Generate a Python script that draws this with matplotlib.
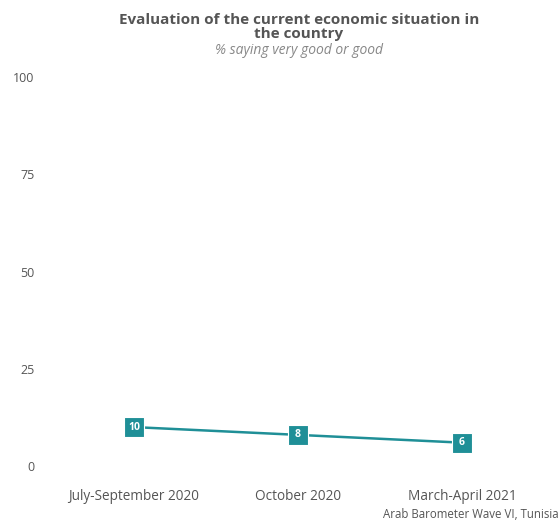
import matplotlib
matplotlib.use("Agg")
import matplotlib.pyplot as plt

categories = ["July-September 2020", "October 2020", "March-April 2021"]
values = [10, 8, 6]
yticks = [0, 25, 50, 75, 100]

title = "Evaluation of the current economic situation in\nthe country"
subtitle = "% saying very good or good"
caption = "Arab Barometer Wave VI, Tunisia"
color = "#1f8f97"

plt.rcParams['font.family'] = ['Open Sans', 'DejaVu Sans']

W, H = 560, 520
fig = plt.figure(figsize=(W/100, H/100), dpi=100)
ax_l, ax_r, ax_t, ax_b = 40, 556, 60, 485
ax = fig.add_axes([ax_l/W, 1-ax_b/H, (ax_r-ax_l)/W, (ax_b-ax_t)/H])

x = list(range(len(categories)))
ax.plot(x, values, color=color, lw=1.8, zorder=2)
ax.scatter(x, values, marker='s', s=200, color=color, edgecolors='white', linewidths=0.8, zorder=3)
for xi, v in zip(x, values):
    ax.text(xi, v, str(v), ha='center', va='center', color='white', fontsize=7.5, fontweight='bold', zorder=4)

ax.set_xlim(-(134-ax_l)/164, 2+(ax_r-462)/164)
ax.set_ylim(-(ax_b-466)/3.89, 100 + (77-ax_t)/3.89)
ax.set_xticks(x)
ax.set_xticklabels(categories, fontsize=9.8, color='#555555')
ax.set_yticks(yticks)
ax.set_yticklabels([str(t) for t in yticks], fontsize=9, color='#555555')
ax.tick_params(length=0, pad=4)
ax.tick_params(axis='x', pad=3)
for s in ax.spines.values():
    s.set_visible(False)
ax.grid(False)

fig.text(299/W, 1-13/H, title, ha='center', va='top', fontsize=11, fontweight='bold', color='#555555', linespacing=0.98)
fig.text(299/W, 1-51/H, subtitle, ha='center', va='center', fontsize=10, style='italic', color='#888888')
fig.text(559/W, 1-515/H, caption, ha='right', va='center', fontsize=8.3, color='#555555')

fig.savefig("out.png", dpi=100)
